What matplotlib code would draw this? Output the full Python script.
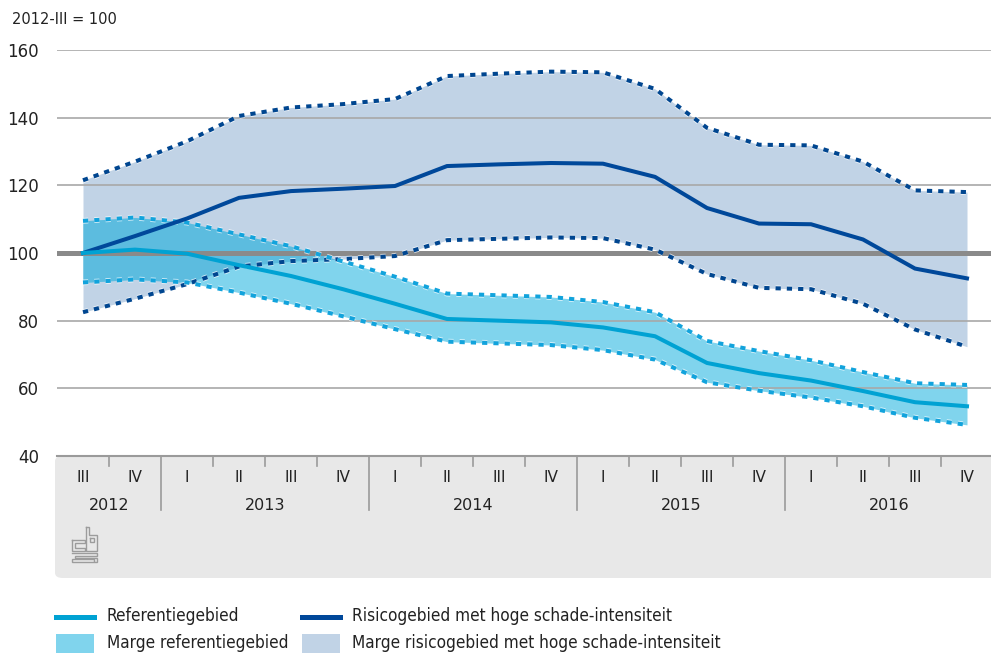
import matplotlib
matplotlib.use("Agg")
import matplotlib.pyplot as plt
import matplotlib.patheffects as pe
from matplotlib.patches import FancyBboxPatch, Rectangle
from matplotlib.lines import Line2D
from matplotlib.transforms import blended_transform_factory
import numpy as np

# data, 2012-III = 100
quarters = ["III", "IV", "I", "II", "III", "IV", "I", "II", "III", "IV",
            "I", "II", "III", "IV", "I", "II", "III", "IV"]
years = ["2012", "2013", "2014", "2015", "2016"]
quarters_per_year = [2, 4, 4, 4, 4]

risk_mid = [100, 105, 110.2, 116.3, 118.3, 119.0, 119.8, 125.7, 126.2, 126.6,
            126.4, 122.5, 113.3, 108.7, 108.5, 104.0, 95.4, 92.5]
risk_hi = [121.5, 127, 133, 140.5, 143, 144, 145.5, 152.3, 153, 153.6,
           153.4, 148.5, 137, 132, 131.8, 127, 118.5, 118]
risk_lo = [82.5, 86.5, 90.8, 96.0, 97.6, 98.2, 99.1, 103.8, 104.2, 104.6,
           104.4, 101, 93.8, 89.7, 89.3, 85.0, 77.4, 72.3]

ref_mid = [100, 101, 99.8, 96.4, 93.2, 89.3, 85.0, 80.5, 80.0, 79.5,
           78.0, 75.4, 67.5, 64.5, 62.3, 59.2, 55.9, 54.7]
ref_hi = [109.5, 110.5, 109, 105.5, 102, 97.5, 93, 88, 87.5, 87,
          85.5, 82.5, 74, 71, 68.3, 64.8, 61.5, 61]
ref_lo = [91.3, 92.2, 91.3, 88.3, 85, 81.3, 77.5, 73.8, 73.3, 72.8,
          71.3, 68.5, 61.8, 59.3, 57.3, 54.7, 51.3, 49.2]

yticks = [40, 60, 80, 100, 120, 140, 160]

c_risk = "#00489a"
c_risk_dot = "#004690"
c_ref = "#00a2d3"
c_ref_dot = "#12a3dc"
c_risk_fill = "#c1d3e6"
c_ref_fill = "#80d4ed"
c_overlap = "#5cbcdf"
c_grid = "#a8a8a8"
c_box = "#e8e8e8"

plt.rcParams["font.family"] = ["DejaVu Sans"]
W, H = 991, 653
fig = plt.figure(figsize=(W / 100, H / 100), dpi=100)


def fp(x, y):
    return (x / W, 1 - y / H)


ax = fig.add_axes([57 / W, 1 - 456 / H, (991 - 57) / W, (456 - 50) / H])
ax.set_facecolor("none")
x = np.arange(len(quarters))

ax.fill_between(x, risk_lo, risk_hi, color=c_risk_fill, lw=0, zorder=1)
ax.fill_between(x, ref_lo, ref_hi, color=c_ref_fill, lw=0, zorder=1.2)
ov_lo = np.maximum(ref_lo, risk_lo)
ov_hi = np.minimum(ref_hi, risk_hi)
ax.fill_between(x, ov_lo, ov_hi, where=ov_hi > ov_lo, interpolate=True,
                color=c_overlap, lw=0, zorder=1.4)

for v in yticks:
    if v in (40, 100):
        continue
    ax.axhline(v, color=c_grid, lw=1.2, zorder=2)
ax.axhline(100, color="#8a8a8a", lw=3.6, zorder=2.5)

halo = [pe.Stroke(linewidth=4.2, foreground="white", alpha=0.7), pe.Normal()]
dots = (0, (1.3, 1.5))
ax.plot(x, risk_hi, color=c_risk_dot, lw=2.9, ls=dots, dash_capstyle="butt",
        path_effects=halo, zorder=4)
ax.plot(x, risk_lo, color=c_risk_dot, lw=2.9, ls=dots, dash_capstyle="butt",
        path_effects=halo, zorder=4)
ax.plot(x, ref_hi, color=c_ref_dot, lw=2.9, ls=dots, dash_capstyle="butt",
        path_effects=halo, zorder=4.2)
ax.plot(x, ref_lo, color=c_ref_dot, lw=2.9, ls=dots, dash_capstyle="butt",
        path_effects=halo, zorder=4.2)
ax.plot(x, risk_mid, color=c_risk, lw=2.9, solid_joinstyle="round", zorder=5)
ax.plot(x, ref_mid, color=c_ref, lw=2.9, solid_joinstyle="round", zorder=5.2)

ax.set_xlim(-0.5, len(quarters) - 1 + 24 / 52)
ax.set_ylim(40, 160)
ax.set_yticks(yticks)
ax.tick_params(axis="y", length=0, pad=13, labelsize=12, labelcolor="#222222")
ax.set_xticks([])
for s in ax.spines.values():
    s.set_visible(False)

# grey category box under the plot
box = FancyBboxPatch(fp(55, 578), (1020 - 55) / W, (578 - 456) / H,
                     boxstyle="round,pad=0,rounding_size=0.008",
                     transform=fig.transFigure, facecolor=c_box,
                     edgecolor="none", zorder=-1)
fig.patches.append(box)
fig.add_artist(Line2D([57 / W, 1], [1 - 456 / H] * 2, color="#9a9a9a", lw=1.5))

tr = blended_transform_factory(ax.transData, ax.transAxes)
px_y = 1.0 / (456 - 50)
starts = np.cumsum([0] + quarters_per_year[:-1])
year_bounds = set((starts[1:] - 0.5).tolist())
for k in range(len(quarters) - 1):
    b = k + 0.5
    depth = 54 if b in year_bounds else 10
    ax.plot([b, b], [0, -depth * px_y], transform=tr, color="#9a9a9a",
            lw=1.2, clip_on=False)
for i, q in enumerate(quarters):
    ax.text(i, -22 * px_y, q, transform=tr, ha="center", va="center",
            fontsize=11, color="#222222")
for yr, s0, n in zip(years, starts, quarters_per_year):
    ax.text(s0 + (n - 1) / 2, -49 * px_y, yr, transform=tr, ha="center",
            va="center", fontsize=11.5, color="#222222")

# cbs logo (outlined shapes)
logo_shapes = [
    [(72, 540), (85, 540), (85, 543), (75, 543), (75, 548), (85, 548), (85, 551), (72, 551), (72, 540)],
    [(86, 527), (89, 527), (89, 535), (97, 535), (97, 551), (86, 551), (86, 527)],
    [(90, 538), (94, 538), (94, 542), (90, 542), (90, 538)],
    [(72, 553), (97, 553), (97, 556), (75, 556), (75, 557.5), (97, 557.5), (97, 562),
     (72, 562), (72, 559), (94, 559), (94, 560.5)],
]
for pts in logo_shapes:
    xs = [p[0] / W for p in pts]
    ys = [1 - p[1] / H for p in pts]
    fig.add_artist(Line2D(xs, ys, color="#9c9c9c", lw=1.0, solid_joinstyle="miter"))

fig.text(*fp(12, 20), "2012-III = 100", ha="left", va="center",
         fontsize=10.5, color="#222222")

# legend
lfont = ["DejaVu Sans"]
fig.add_artist(Line2D([56 / W, 94 / W], [1 - 617 / H] * 2, color=c_ref, lw=3.6))
fig.add_artist(Line2D([302 / W, 340 / W], [1 - 617 / H] * 2, color=c_risk, lw=3.6))
fig.patches.append(Rectangle(fp(56, 653), 38 / W, 19 / H, transform=fig.transFigure,
                             facecolor=c_ref_fill, edgecolor="none"))
fig.patches.append(Rectangle(fp(302, 653), 38 / W, 19 / H, transform=fig.transFigure,
                             facecolor=c_risk_fill, edgecolor="none"))
legend_items = [("Referentiegebied", 107, 616),
                ("Risicogebied met hoge schade-intensiteit", 352, 616),
                ("Marge referentiegebied", 107, 643),
                ("Marge risicogebied met hoge schade-intensiteit", 352, 643)]
for txt, lx, ly in legend_items:
    fig.text(*fp(lx, ly), txt, ha="left", va="center", fontsize=12.3,
             family=lfont, fontstretch="condensed", color="#222222")

fig.savefig("out.png", dpi=100)
